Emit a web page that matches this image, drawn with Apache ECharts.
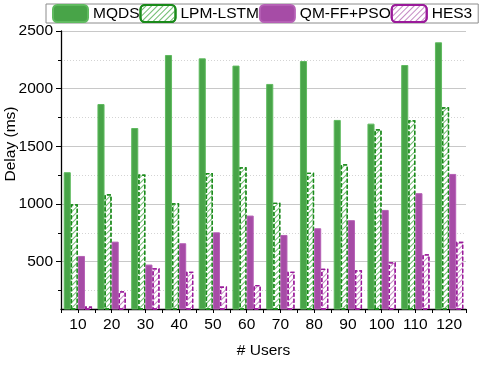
<!DOCTYPE html>
<html>
<head>
<meta charset="utf-8">
<script src="https://cdn.jsdelivr.net/npm/echarts@6/dist/echarts.min.js"></script>
<style>html,body{margin:0;padding:0;background:#fff;}#c{width:480px;height:371px;}</style>
</head>
<body>
<div id="c"></div>
<script>
const categories = ['10','20','30','40','50','60','70','80','90','100','110','120'];
const mqds    = [1276,1867,1659,2292,2263,2200,2041,2240,1729,1697,2205,2402];
const lpmLstm = [998,1085,1255,1007,1269,1319,1012,1272,1345,1648,1726,1839];
const qmFfPso = [550,674,475,660,755,900,732,790,860,949,1094,1261];
const hes3    = [111,244,443,414,284,299,414,440,426,496,565,672];
const majorTicks = [500,1000,1500,2000,2500];
const minorTicks = [250,750,1250,1750,2250];

const FONT = 'Liberation Sans, Arial, sans-serif';
const FS = 15.5;

function hatch(color){
  return {symbol:'rect', symbolSize:1, dashArrayX:[1,0], dashArrayY:[1,2.2], rotation:-Math.PI/4, color:color};
}

const chart = echarts.init(document.getElementById('c'), null, {renderer:'canvas'});
chart.setOption({
  animation:false,
  backgroundColor:'#fff',
  textStyle:{fontFamily:FONT},
  grid:{left:61, right:14, top:31, bottom:62, containLabel:false},
  legend:{
    left:46, top:4, padding:[0,6,0,6], itemGap:0, itemWidth:35, itemHeight:17,
    borderColor:'#8c8c8c', borderWidth:1,
    textStyle:{fontFamily:FONT, fontSize:FS, color:'#000'},
    data:['MQDS','LPM-LSTM','QM-FF+PSO','HES3']
  },
  xAxis:[{
    type:'category', data:categories, position:'bottom',
    axisLine:{lineStyle:{color:'#000', width:1.3}},
    axisTick:{show:true, alignWithLabel:false, length:4, lineStyle:{color:'#000'}},
    axisLabel:{color:'#000', fontSize:FS, fontFamily:FONT, margin:8},
    name:'# Users', nameLocation:'middle', nameGap:34,
    nameTextStyle:{color:'#000', fontSize:FS, fontFamily:FONT}
  },{
    type:'category', data:categories, position:'bottom',
    axisLine:{show:false},
    axisTick:{show:true, alignWithLabel:true, length:4, lineStyle:{color:'#000'}},
    axisLabel:{show:false}
  }],
  yAxis:[{
    type:'value', min:90, max:2500, position:'left',
    axisLine:{show:true, lineStyle:{color:'#000', width:1.3}},
    axisTick:{show:true, length:5, customValues:majorTicks, lineStyle:{color:'#000'}},
    axisLabel:{color:'#000', fontSize:FS, fontFamily:FONT, margin:8, customValues:majorTicks,
               formatter:function(v){return String(v);}},
    splitLine:{show:true, lineStyle:{color:'#c8c8c8', width:1}}
  },{
    type:'value', min:90, max:2500, position:'left',
    axisLine:{show:false},
    axisTick:{show:true, length:3, customValues:minorTicks, lineStyle:{color:'#000'}},
    axisLabel:{show:false},
    splitLine:{show:true, lineStyle:{color:'#d4d4d4', width:1, type:[1,2]}}
  }],
  graphic:[{
    type:'text', x:11, y:144, rotation:Math.PI/2,
    style:{text:'Delay (ms)', fill:'#000', font:FS+'px '+FONT, align:'center', verticalAlign:'middle'}
  }],
  series:[
    {name:'MQDS', type:'bar', data:mqds, barGap:'0%', barCategoryGap:'16%',
     itemStyle:{color:'#48a448', borderColor:'#5fba5f', borderWidth:1}},
    {name:'LPM-LSTM', type:'bar', data:lpmLstm, barGap:'0%', barCategoryGap:'16%',
     itemStyle:{color:'#ffffff', borderColor:'#1a8a1a', borderWidth:1.3, borderType:[4,2], decal:hatch('#6dbb6d')}},
    {name:'QM-FF+PSO', type:'bar', data:qmFfPso, barGap:'0%', barCategoryGap:'16%',
     itemStyle:{color:'#a64ca6', borderColor:'#b560b5', borderWidth:1}},
    {name:'HES3', type:'bar', data:hes3, barGap:'0%', barCategoryGap:'16%',
     itemStyle:{color:'#ffffff', borderColor:'#9a1a9a', borderWidth:1.3, borderType:[4,2], decal:hatch('#c48ac4')}}
  ]
});
</script>
</body>
</html>
